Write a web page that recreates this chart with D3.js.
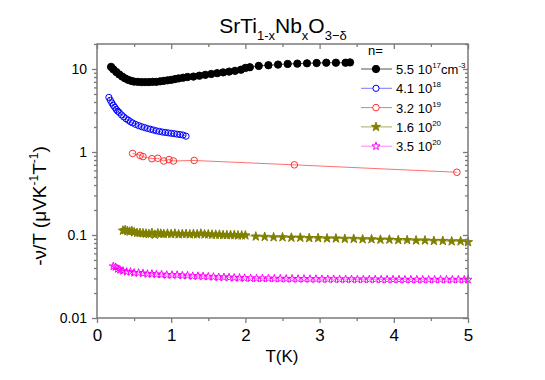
<!DOCTYPE html>
<html>
<head>
<meta charset="utf-8">
<script src="https://d3js.org/d3.v7.min.js"></script>
<style>
  body { margin: 0; background: #fff; }
  text { font-family: Arial, "Liberation Sans", sans-serif; }
</style>
</head>
<body>
<svg width="545" height="380"></svg>
<script>
// T (K), -nu/T (uV K^-1 T^-1)
var n17 = [[0.19,10.6],[0.22,9.9],[0.26,9.2],[0.30,8.6],[0.34,8.1],[0.38,7.7],[0.42,7.4],[0.46,7.2],[0.50,7.05],[0.55,7.0],
  [0.60,6.95],[0.65,6.95],[0.70,6.95],[0.75,7.0],[0.80,7.0],[0.85,7.1],[0.90,7.2],[0.95,7.3],[1.00,7.4],[1.05,7.55],
  [1.10,7.7],[1.16,7.85],[1.22,8.0],[1.30,8.1],[1.38,8.3],[1.46,8.5],[1.54,8.7],[1.62,8.9],[1.70,9.1],[1.78,9.3],
  [1.86,9.5],[1.94,9.8],[2.00,10.3],[2.06,10.5],[2.18,10.9],[2.31,11.1],[2.44,11.3],[2.57,11.5],[2.70,11.6],[2.83,11.7],
  [2.96,11.8],[3.09,11.9],[3.22,11.9],[3.35,11.9],[3.41,12.0]];
var n18 = [[0.16,4.55],[0.18,4.2],[0.20,3.9],[0.22,3.65],[0.24,3.45],[0.26,3.25],[0.28,3.1],[0.30,3.0],[0.33,2.8],[0.36,2.65],
  [0.39,2.52],[0.42,2.42],[0.45,2.32],[0.48,2.24],[0.52,2.15],[0.56,2.08],[0.60,2.02],[0.64,1.97],[0.68,1.92],[0.72,1.88],
  [0.76,1.84],[0.80,1.8],[0.84,1.77],[0.88,1.74],[0.92,1.72],[0.96,1.7],[1.00,1.68],[1.04,1.66],[1.08,1.64],[1.12,1.62],
  [1.16,1.6],[1.20,1.55]];
var n19 = [[0.48,0.96],[0.58,0.91],[0.62,0.88],[0.74,0.83],[0.82,0.84],[0.90,0.78],[0.97,0.81],[1.03,0.78],[1.31,0.79],
  [2.66,0.70],[4.85,0.57]];
var n20a = [[0.35,0.113],[0.38,0.115],[0.41,0.112],[0.44,0.110],[0.47,0.112],[0.50,0.108],[0.54,0.106],[0.58,0.106],[0.62,0.105],[0.66,0.104],
  [0.70,0.103],[0.74,0.106],[0.78,0.101],[0.82,0.105],[0.86,0.104],[0.90,0.103],[0.95,0.104],[1.00,0.103],[1.05,0.104],[1.10,0.102],
  [1.15,0.103],[1.20,0.103],[1.25,0.102],[1.30,0.103],[1.35,0.102],[1.40,0.104],[1.45,0.102],[1.50,0.102],[1.55,0.101],[1.60,0.101],
  [1.65,0.101],[1.70,0.100],[1.75,0.100],[1.80,0.100],[1.85,0.100],[1.90,0.099],[1.95,0.099],[2.00,0.099],
  [2.14,0.096],[2.26,0.095],[2.38,0.094],[2.50,0.094],[2.62,0.093],[2.74,0.093],[2.86,0.092],[2.98,0.092],[3.10,0.091],[3.22,0.091],
  [3.34,0.090],[3.46,0.090],[3.58,0.089],[3.70,0.089],[3.82,0.088],[3.94,0.088],[4.06,0.087],[4.18,0.087],[4.30,0.086],[4.42,0.086],
  [4.54,0.085],[4.66,0.085],[4.78,0.084],[4.90,0.084],[5.00,0.082]];
var n20b = [[0.22,0.042],[0.25,0.041],[0.28,0.039],[0.31,0.038],[0.35,0.037],[0.40,0.036],[0.45,0.036],[0.50,0.035],[0.56,0.035],[0.62,0.0345],
  [0.68,0.034],[0.74,0.034],[0.80,0.0335],[0.87,0.0335],[0.94,0.033],[1.01,0.033],[1.08,0.033],[1.15,0.0325],[1.22,0.0325],[1.29,0.032],
  [1.36,0.032],[1.43,0.0318],[1.50,0.0315],[1.57,0.0313],[1.64,0.031],[1.71,0.031],[1.78,0.0308],[1.85,0.0306],[1.92,0.0305],[1.99,0.0303],
  [2.07,0.0302],[2.15,0.030],[2.23,0.030],[2.31,0.030],[2.39,0.0298],[2.47,0.0298],[2.55,0.0297],[2.63,0.0297],[2.71,0.0296],[2.79,0.0296],
  [2.87,0.0295],[2.95,0.0295],[3.03,0.0294],[3.11,0.0294],[3.19,0.0294],[3.27,0.0293],[3.35,0.0293],[3.43,0.0293],[3.51,0.0292],[3.59,0.0292],
  [3.67,0.0292],[3.75,0.0292],[3.83,0.0291],[3.91,0.0291],[3.99,0.0291],[4.07,0.0291],[4.15,0.029],[4.23,0.029],[4.31,0.029],[4.39,0.029],
  [4.47,0.029],[4.55,0.029],[4.63,0.029],[4.71,0.029],[4.79,0.029],[4.87,0.029],[4.95,0.029],[5.00,0.029]];

var xTicks = [0, 1, 2, 3, 4, 5];
var yTicks = [0.01, 0.1, 1, 10];
var legendNum = ["5.5 10", "4.1 10", "3.2 10", "1.6 10", "3.5 10"];
var legendExp = ["17", "18", "19", "20", "20"];

var series = [
  {data: n17, color: "#000000", line: "#555555", shape: d3.symbolCircle, size: 42, fill: true},
  {data: n18, color: "#0000ff", line: "#7878ff", shape: d3.symbolCircle, size: 30, fill: false},
  {data: n19, color: "#ff3030", line: "#ff7070", shape: d3.symbolCircle, size: 34, fill: false},
  {data: n20a, color: "#808000", line: "#a8a860", shape: d3.symbolStar, size: 26, fill: true},
  {data: n20b, color: "#ff00ff", line: "#ff80ff", shape: d3.symbolStar, size: 20, fill: false}
];

var svg = d3.select("svg");
var pL = 97, pR = 468, pT = 44, pB = 318;
var axisColor = "#7a7a7a";

var x = d3.scaleLinear().domain([0, 5]).range([pL, pR]);
var y = d3.scaleLog().domain([0.01, 20]).range([pB, pT]);

var yMinor = [];
yTicks.forEach(function(d) {
  for (var k = 2; k <= 9; k++) if (d * k <= 20) yMinor.push(d * k);
});
var xMinor = [0.5, 1.5, 2.5, 3.5, 4.5];

// data
var plot = svg.append("g");
series.forEach(function(s) {
  plot.append("path")
    .datum(s.data)
    .attr("fill", "none")
    .attr("stroke", s.line)
    .attr("stroke-width", 1)
    .attr("d", d3.line().x(function(d) { return x(d[0]); }).y(function(d) { return y(d[1]); }));
  plot.append("g").selectAll("path")
    .data(s.data)
    .enter().append("path")
    .attr("transform", function(d) { return "translate(" + x(d[0]) + "," + y(d[1]) + ")"; })
    .attr("d", d3.symbol().type(s.shape).size(s.size))
    .attr("fill", s.fill ? s.color : "none")
    .attr("stroke", s.color)
    .attr("stroke-width", 1);
});

// axes
function styleAxis(g) {
  g.selectAll(".domain").remove();
  g.selectAll("line").attr("stroke", axisColor).attr("stroke-width", 1.3);
}

svg.append("g").attr("transform", "translate(0," + pB + ")")
  .call(d3.axisBottom(x).tickValues(xTicks).tickSize(5).tickPadding(6).tickFormat(d3.format("d")))
  .call(styleAxis)
  .call(function(g) { g.selectAll("text").attr("font-size", 17).attr("fill", "#000"); });
svg.append("g").attr("transform", "translate(0," + pB + ")")
  .call(d3.axisBottom(x).tickValues(xMinor).tickSize(3).tickFormat(""))
  .call(styleAxis);

svg.append("g").attr("transform", "translate(" + pL + ",0)")
  .call(d3.axisLeft(y).tickValues(yTicks).tickSize(5).tickPadding(5).tickFormat(function(d) { return String(d); }))
  .call(styleAxis)
  .call(function(g) { g.selectAll("text").attr("font-size", 14).attr("fill", "#000"); });
svg.append("g").attr("transform", "translate(" + pL + ",0)")
  .call(d3.axisLeft(y).tickValues(yMinor).tickSize(3).tickFormat(""))
  .call(styleAxis);

svg.append("g").attr("transform", "translate(0," + pT + ")")
  .call(d3.axisTop(x).tickValues(xTicks).tickSize(-5).tickFormat(""))
  .call(styleAxis);
svg.append("g").attr("transform", "translate(0," + pT + ")")
  .call(d3.axisTop(x).tickValues(xMinor).tickSize(-3).tickFormat(""))
  .call(styleAxis);
svg.append("g").attr("transform", "translate(" + pR + ",0)")
  .call(d3.axisRight(y).tickValues(yTicks).tickSize(-5).tickFormat(""))
  .call(styleAxis);
svg.append("g").attr("transform", "translate(" + pR + ",0)")
  .call(d3.axisRight(y).tickValues(yMinor).tickSize(-3).tickFormat(""))
  .call(styleAxis);

svg.append("rect")
  .attr("x", pL).attr("y", pT)
  .attr("width", pR - pL).attr("height", pB - pT)
  .attr("fill", "none").attr("stroke", axisColor).attr("stroke-width", 1.5);

// title
var title = svg.append("text").attr("x", 283).attr("y", 33)
  .attr("text-anchor", "middle").attr("font-size", 21);
title.append("tspan").text("SrTi");
title.append("tspan").attr("font-size", 13).attr("dy", 7).text("1-x");
title.append("tspan").attr("dy", -7).text("Nb");
title.append("tspan").attr("font-size", 13).attr("dy", 7).text("x");
title.append("tspan").attr("dy", -7).text("O");
title.append("tspan").attr("font-size", 13).attr("dy", 7).text("3\u2212\u03b4");

// axis titles
svg.append("text").attr("x", 282).attr("y", 362)
  .attr("text-anchor", "middle").attr("font-size", 17).text("T(K)");

var yl = svg.append("text")
  .attr("transform", "translate(46,206) rotate(-90)")
  .attr("text-anchor", "middle").attr("font-size", 19);
yl.append("tspan").text("-\u03bd/T (\u03bcVK");
yl.append("tspan").attr("font-size", 12).attr("dy", -8).text("-1");
yl.append("tspan").attr("dy", 8).text("T");
yl.append("tspan").attr("font-size", 12).attr("dy", -8).text("-1");
yl.append("tspan").attr("dy", 8).text(")");

// legend
svg.append("text").attr("x", 368).attr("y", 55).attr("font-size", 13).text("n=");
var leg = svg.append("g");
series.forEach(function(s, i) {
  var cy = 69 + i * 19.3;
  var g = leg.append("g");
  g.append("line").attr("x1", 361).attr("x2", 392).attr("y1", cy).attr("y2", cy)
    .attr("stroke", s.line).attr("stroke-width", 1);
  g.append("path")
    .attr("transform", "translate(376," + cy + ")")
    .attr("d", d3.symbol().type(s.shape).size(s.size))
    .attr("fill", s.fill ? s.color : "#fff")
    .attr("stroke", s.color).attr("stroke-width", 1);
  var t = g.append("text").attr("x", 396).attr("y", cy + 5).attr("font-size", 13);
  t.append("tspan").text(legendNum[i]);
  t.append("tspan").attr("font-size", 8).attr("dy", -6).text(legendExp[i]);
  if (i === 0) {
    t.append("tspan").attr("dy", 6).text("cm");
    t.append("tspan").attr("font-size", 8).attr("dy", -6).text("-3");
  }
});
</script>
</body>
</html>
